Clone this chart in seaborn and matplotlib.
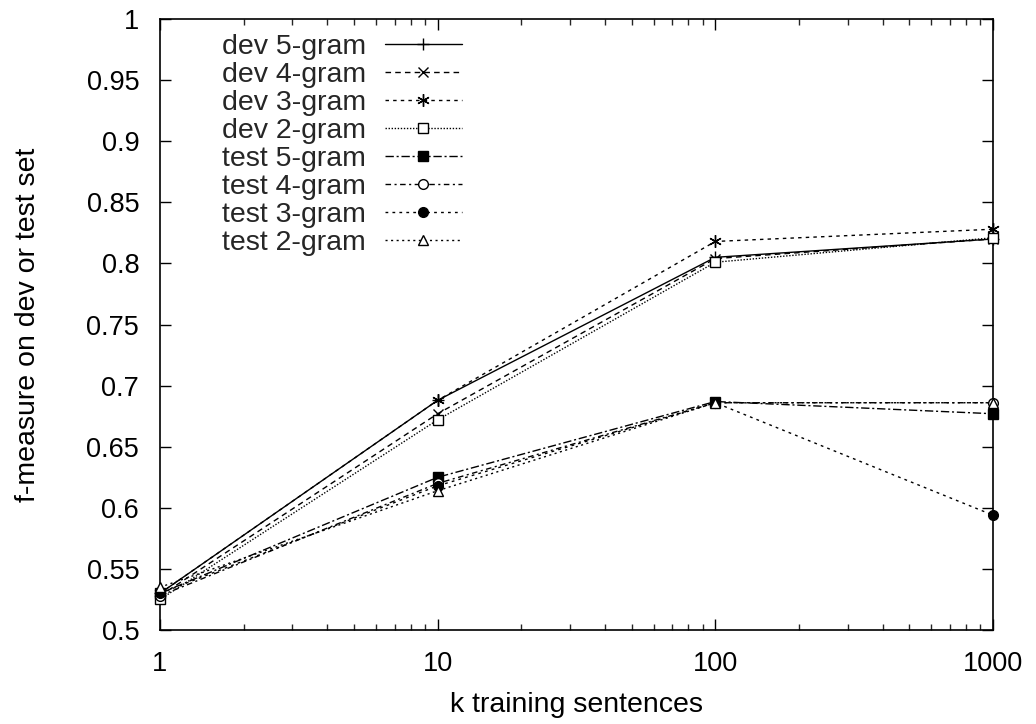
import matplotlib
matplotlib.use("Agg")
import matplotlib.pyplot as plt
import seaborn as sns
import numpy as np
import pandas as pd
from matplotlib.ticker import FixedLocator, FuncFormatter, LogLocator, NullFormatter

sizes = [1, 10, 100, 1000]
series_names = ["dev 5-gram", "dev 4-gram", "dev 3-gram", "dev 2-gram",
                "test 5-gram", "test 4-gram", "test 3-gram", "test 2-gram"]
dev_5gram = [0.530, 0.688, 0.805, 0.820]
dev_4gram = [0.528, 0.677, 0.804, 0.820]
dev_3gram = [0.530, 0.688, 0.818, 0.828]
dev_2gram = [0.525, 0.672, 0.801, 0.821]
test_5gram = [0.530, 0.625, 0.687, 0.677]
test_4gram = [0.528, 0.620, 0.686, 0.686]
test_3gram = [0.530, 0.618, 0.686, 0.594]
test_2gram = [0.535, 0.614, 0.686, 0.686]
all_values = [dev_5gram, dev_4gram, dev_3gram, dev_2gram,
              test_5gram, test_4gram, test_3gram, test_2gram]
y_ticks = [0.5, 0.55, 0.6, 0.65, 0.7, 0.75, 0.8, 0.85, 0.9, 0.95, 1.0]

sns.set_theme(style="white")
plt.rcParams['font.family'] = ['Liberation Sans', 'DejaVu Sans']

styles = [
    dict(linestyle='-', marker='+', mfc='black', ms=9),
    dict(linestyle=(0, (4, 3)), marker='x', mfc='black', ms=7),
    dict(linestyle=(0, (2.5, 3)), marker=(6, 2, 0), mfc='black', ms=9),
    dict(linestyle=(0, (1, 1.2)), marker='s', mfc='white', ms=7),
    dict(linestyle=(0, (6, 2, 1.5, 2)), marker='s', mfc='black', ms=7),
    dict(linestyle=(0, (4, 2.5, 1.5, 2.5)), marker='o', mfc='white', ms=7),
    dict(linestyle=(0, (2, 3)), marker='o', mfc='black', ms=7),
    dict(linestyle=(0, (1.5, 2.5)), marker='^', mfc='white', ms=7),
]

fig = plt.figure(figsize=(10.36, 7.24), dpi=100)
ax = fig.add_axes([0.1544, 0.1298, 0.8041, 0.8439])

for name, vals, st in zip(series_names, all_values, styles):
    df = pd.DataFrame({"x": sizes, "y": vals})
    sns.lineplot(data=df, x="x", y="y", ax=ax, color='black', lw=1.0,
                 linestyle=st['linestyle'], marker=st['marker'],
                 markerfacecolor=st['mfc'], markeredgecolor='black',
                 markeredgewidth=1.0, markersize=st['ms'], label=name,
                 clip_on=False, zorder=3)

ax.set_xscale('log')
ax.set_xlim(1, 1000)
ax.set_ylim(0.5, 1.0)
ax.xaxis.set_major_locator(FixedLocator(sizes))
ax.xaxis.set_major_formatter(FuncFormatter(lambda v, p: f"{int(round(v))}"))
ax.xaxis.set_minor_locator(LogLocator(base=10, subs=np.arange(2, 10), numticks=20))
ax.xaxis.set_minor_formatter(NullFormatter())
ax.yaxis.set_major_locator(FixedLocator(y_ticks))
ax.yaxis.set_major_formatter(FuncFormatter(lambda v, p: f"{v:g}"))

for s in ax.spines.values():
    s.set_color('black')
    s.set_linewidth(1.2)
ax.tick_params(axis='both', which='major', direction='in', length=8, width=1.0,
               top=True, right=True, bottom=True, left=True, labelsize=19.5,
               colors='black')
ax.tick_params(axis='y', which='major', pad=15)
ax.tick_params(axis='x', which='major', pad=15)
ax.tick_params(axis='x', which='minor', direction='in', length=4, width=1.0,
               top=True, bottom=True)

ax.set_xlabel("k training sentences", fontsize=20.5, color='black', labelpad=11)
ax.set_ylabel("f-measure on dev or test set", fontsize=20.5, color='black', labelpad=33)

ax.legend(loc='upper left', bbox_to_anchor=(0.0744, 0.976), frameon=False,
          markerfirst=False, fontsize=20.5, handlelength=2.7, labelspacing=0.07,
          handletextpad=0.66, borderaxespad=0.0, borderpad=0.0)

fig.savefig("out.png", dpi=100)
